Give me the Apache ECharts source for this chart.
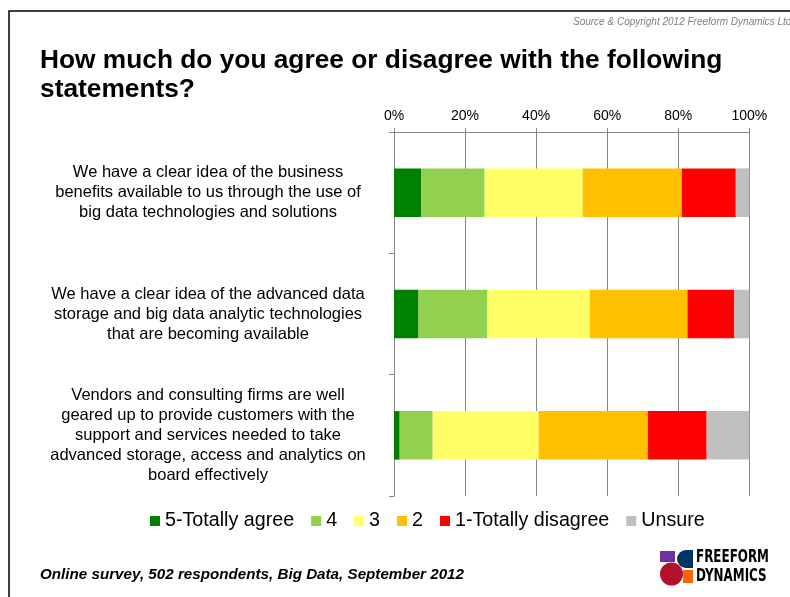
<!DOCTYPE html>
<html>
<head>
<meta charset="utf-8">
<script src="https://cdn.jsdelivr.net/npm/echarts@6/dist/echarts.min.js"></script>
<style>
html,body{margin:0;padding:0;background:#fff;}
#c{width:790px;height:597px;}
</style>
</head>
<body>
<div id="c"></div>
<script>
var categories = [
  "We have a clear idea of the business\nbenefits available to us through the use of\nbig data technologies and solutions",
  "We have a clear idea of the advanced data\nstorage and big data analytic technologies\nthat are becoming available",
  "Vendors and consulting firms are well\ngeared up to provide customers with the\nsupport and services needed to take\nadvanced storage, access and analytics on\nboard effectively"
];
var seriesNames = ["5-Totally agree", "4", "3", "2", "1-Totally disagree", "Unsure"];
var totallyAgree = [7.7, 6.9, 1.6];
var agree4 = [17.8, 19.4, 9.3];
var neutral3 = [27.6, 28.8, 29.8];
var disagree2 = [27.9, 27.5, 30.7];
var totallyDisagree = [15.2, 13.2, 16.6];
var unsure = [3.8, 4.2, 12.0];
var xTicks = [0, 20, 40, 60, 80, 100];

var colors = ["#008000", "#92D050", "#FFFF66", "#FFC000", "#FF0000", "#BFBFBF"];
var valueSets = [totallyAgree, agree4, neutral3, disagree2, totallyDisagree, unsure];

var chart = echarts.init(document.getElementById('c'));
var font = "Arial, 'Liberation Sans', sans-serif";
var narrow = "'Liberation Sans Narrow', 'DejaVu Sans Condensed', Arial, sans-serif";

var series = seriesNames.map(function (n, i) {
  return {
    name: n,
    type: 'bar',
    stack: 'total',
    barCategoryGap: '60%',
    data: valueSets[i],
    itemStyle: { color: colors[i] },
    emphasis: { disabled: true }
  };
});

chart.setOption({
  animation: false,
  textStyle: { fontFamily: font },
  title: {
    text: "How much do you agree or disagree with the following\nstatements?",
    left: 40,
    top: 46,
    padding: 0,
    textStyle: { fontFamily: font, fontSize: 26.3, fontWeight: 'bold', color: '#000', lineHeight: 29 }
  },
  legend: {
    data: seriesNames,
    left: 150,
    top: 511,
    padding: 0,
    icon: 'rect',
    itemWidth: 10,
    itemHeight: 10,
    itemGap: 17,
    textStyle: { fontFamily: font, fontSize: 19.7, color: '#000' }
  },
  grid: { left: 394, right: 40.7, top: 132, bottom: 101 },
  xAxis: {
    type: 'value',
    position: 'top',
    min: xTicks[0],
    max: xTicks[xTicks.length - 1],
    interval: 20,
    axisLine: { show: true, lineStyle: { color: '#868686', width: 1 } },
    axisTick: { show: true, length: 4, lineStyle: { color: '#868686' } },
    splitLine: { show: true, lineStyle: { color: '#868686', width: 1 } },
    axisLabel: { formatter: '{value}%', fontFamily: font, fontSize: 14, color: '#000', margin: 9 }
  },
  yAxis: {
    type: 'category',
    inverse: true,
    data: categories,
    axisLine: { show: true, lineStyle: { color: '#868686', width: 1 } },
    axisTick: { show: true, length: 5, alignWithLabel: false, lineStyle: { color: '#868686' } },
    axisLabel: {
      fontFamily: font, fontSize: 16.5, color: '#000', lineHeight: 20,
      align: 'center', margin: 186, padding: [4, 0, 0, 0]
    }
  },
  series: series,
  graphic: [
    { type: 'rect', shape: { x: 9, y: 11, width: 800, height: 600 }, style: { fill: 'none', stroke: '#000', lineWidth: 1.5 }, silent: true },
    { type: 'text', x: 573, y: 22, style: { text: 'Source & Copyright 2012 Freeform Dynamics Ltd', fontFamily: font, fontStyle: 'italic', fontSize: 10, fill: '#7f7f7f', textVerticalAlign: 'middle' } },
    { type: 'text', x: 40, y: 575, style: { text: 'Online survey, 502 respondents, Big Data, September 2012', fontFamily: font, fontStyle: 'italic', fontWeight: 'bold', fontSize: 15.2, fill: '#000', textVerticalAlign: 'middle' } },
    { type: 'rect', shape: { x: 660, y: 551, width: 15, height: 11 }, style: { fill: '#7030A0' } },
    { type: 'rect', shape: { x: 677, y: 550, width: 16, height: 18, r: [9, 0, 0, 9] }, style: { fill: '#003366' } },
    { type: 'rect', shape: { x: 683, y: 570, width: 10, height: 13 }, style: { fill: '#FF6600' } },
    { type: 'circle', shape: { cx: 671.5, cy: 574, r: 11.5 }, style: { fill: '#B5112F' } },
    { type: 'text', x: 696, y: 557.5, scaleX: 0.78, style: { text: 'FREEFORM', fontFamily: narrow, fontWeight: 'bold', fontSize: 17, fill: '#000', textVerticalAlign: 'middle' } },
    { type: 'text', x: 696, y: 576.5, scaleX: 0.78, style: { text: 'DYNAMICS', fontFamily: narrow, fontWeight: 'bold', fontSize: 17, fill: '#000', textVerticalAlign: 'middle' } }
  ]
});
</script>
</body>
</html>
